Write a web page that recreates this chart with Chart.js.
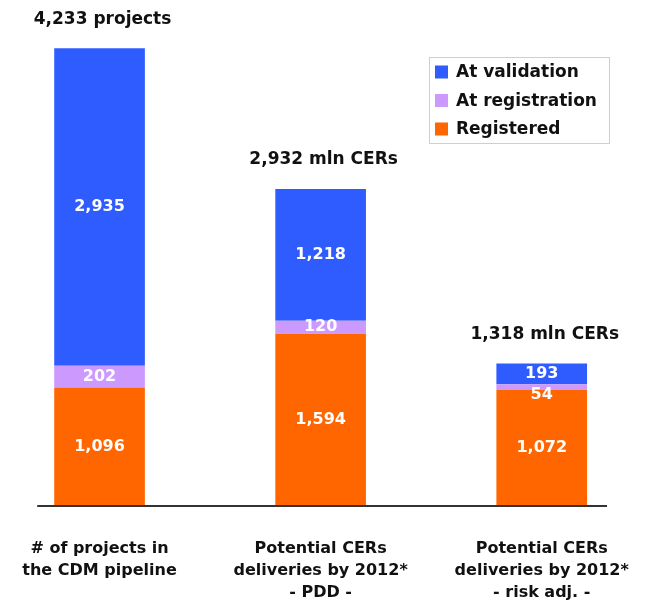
<!DOCTYPE html>
<html>
<head>
<meta charset="utf-8">
<script src="https://cdn.jsdelivr.net/npm/chart.js@4"></script>
<style>
html, body { margin: 0; padding: 0; background: #fff; overflow: hidden; }
#wrap { position: relative; width: 672px; height: 607px; margin-left: -11px; overflow: hidden; }
</style>
</head>
<body>
<div id="wrap"><canvas id="c" width="672" height="640"></canvas></div>
<script>
const categories = [
	['# of projects in', 'the CDM pipeline'],
	['Potential CERs', 'deliveries by 2012*', '- PDD -'],
	['Potential CERs', 'deliveries by 2012*', '- risk adj. -'],
];
const registered = [1096, 1594, 1072];
const atRegistration = [202, 120, 54];
const atValidation = [2935, 1218, 193];
const totals = [4233, 2932, 1318];
const totalUnits = ['projects', 'mln CERs', 'mln CERs'];

const FONT = '"DejaVu Sans", sans-serif';
const fmt = (v) => v.toLocaleString('en-US');

// labels, totals, baseline and the boxed legend
const overlay = {
	id: 'overlay',
	afterDatasetsDraw(chart) {
		const ctx = chart.ctx;
		const yScale = chart.scales.y;
		const bars0 = chart.getDatasetMeta(0).data;
		const first = bars0[0];
		const last = bars0[bars0.length - 1];
		const base = yScale.getPixelForValue(0);
		ctx.save();

		ctx.strokeStyle = '#333';
		ctx.lineWidth = 2;
		ctx.beginPath();
		ctx.moveTo(first.x - first.width / 2 - 17, base);
		ctx.lineTo(last.x + last.width / 2 + 20, base);
		ctx.stroke();

		ctx.font = 'bold 16px ' + FONT;
		ctx.textAlign = 'center';
		ctx.textBaseline = 'middle';
		ctx.fillStyle = '#fff';
		chart.data.datasets.forEach((ds, di) => {
			chart.getDatasetMeta(di).data.forEach((bar, i) => {
				const h = bar.base - bar.y;
				const ty = h < 10 ? bar.base + 5 : (bar.y + bar.base) / 2;
				ctx.fillText(fmt(ds.data[i]), bar.x, ty);
			});
		});

		const topBars = chart.getDatasetMeta(chart.data.datasets.length - 1).data;
		ctx.font = 'bold 17px ' + FONT;
		ctx.fillStyle = '#111';
		topBars.forEach((bar, i) => {
			ctx.fillText(fmt(totals[i]) + ' ' + totalUnits[i], bar.x + 3, bar.y - 29);
		});

		const lg = { x: 440, y: 57, w: 180, h: 86 };
		ctx.strokeStyle = '#cfcfcf';
		ctx.lineWidth = 1;
		ctx.strokeRect(lg.x + 0.5, lg.y + 0.5, lg.w, lg.h);
		ctx.font = 'bold 17px ' + FONT;
		ctx.textAlign = 'left';
		chart.data.datasets.slice().reverse().forEach((ds, k) => {
			const cy = lg.y + 15 + k * 28.5;
			ctx.fillStyle = ds.backgroundColor;
			ctx.fillRect(lg.x + 6, cy - 6.5, 13, 13);
			ctx.fillStyle = '#111';
			ctx.fillText(ds.label, lg.x + 27, cy + 1);
		});
		ctx.restore();
	},
};

new Chart(document.getElementById('c'), {
	type: 'bar',
	data: {
		labels: categories,
		datasets: [
			{ label: 'Registered', data: registered, backgroundColor: '#ff6600' },
			{ label: 'At registration', data: atRegistration, backgroundColor: '#cc99ff' },
			{ label: 'At validation', data: atValidation, backgroundColor: '#2f5cff' },
		],
	},
	options: {
		responsive: false,
		animation: false,
		layout: { padding: { top: 0, bottom: 4, left: 0, right: 1 } },
		datasets: { bar: { categoryPercentage: 1, barPercentage: 0.41 } },
		plugins: { legend: { display: false }, tooltip: { enabled: false } },
		scales: {
			x: {
				stacked: true,
				grid: { display: false, drawTicks: false },
				border: { display: false },
				ticks: {
					padding: 32,
					color: '#111',
					maxRotation: 0,
					font: { family: FONT, size: 16, weight: 'bold', lineHeight: 1.375 },
				},
			},
			y: {
				stacked: true,
				display: false,
				min: 0,
				max: 4680,
			},
		},
	},
	plugins: [overlay],
});
</script>
</body>
</html>
